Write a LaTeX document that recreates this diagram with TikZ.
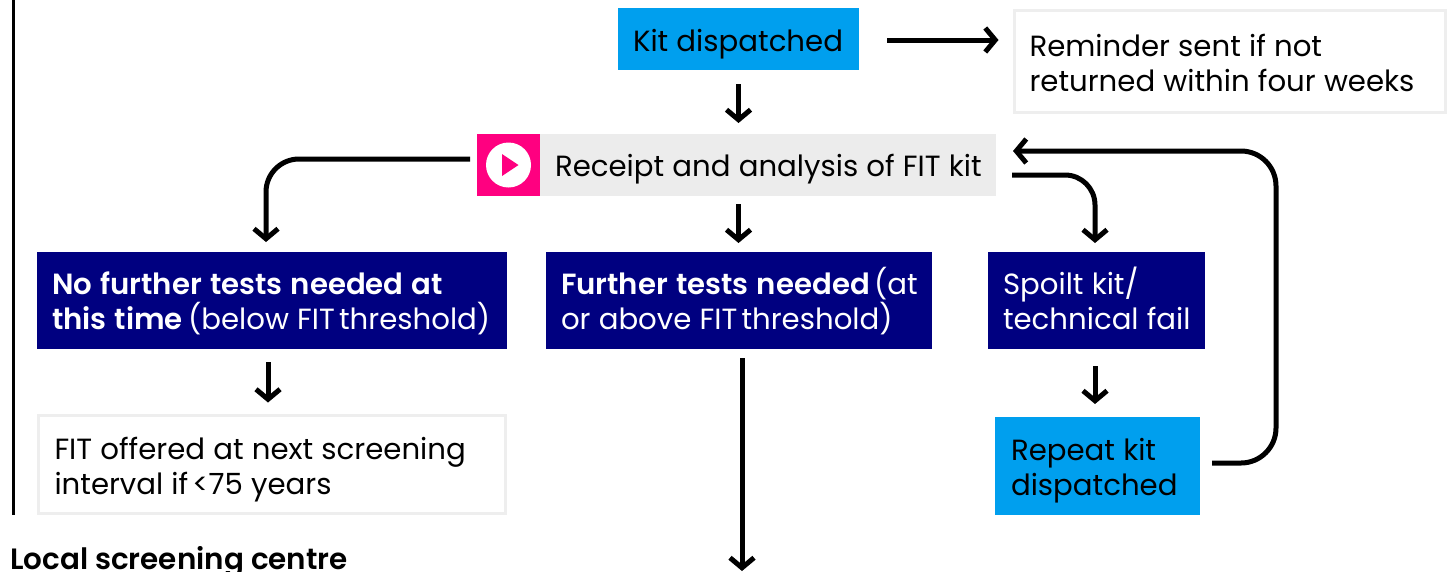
\documentclass[tikz,border=0pt]{standalone}
\usepackage{fontspec}
\setmainfont{Poppins}[BoldFont={Poppins SemiBold}]
\usetikzlibrary{arrows.meta,calc}
\definecolor{skyb}{HTML}{009FEE}
\definecolor{navyb}{HTML}{000080}
\definecolor{pinkb}{HTML}{FF0080}
\definecolor{greyb}{HTML}{ECECEC}
\definecolor{edgeb}{HTML}{EEEEEE}
\newdimen\dropv
\newcommand{\tl}[1]{\mbox{\spaceskip=\dimexpr\fontdimen2\font+0.4pt\relax\raisebox{-\dropv}[0pt][0pt]{#1}}}
\tikzset{
  x=1pt,y=-1pt,
  drop/.style={execute at begin node={\global\dropv=#1pt\relax}},
  boxbase/.style={anchor=north west,align=left,inner xsep=15pt,inner ysep=0pt,outer sep=0pt,font=\fontsize{29.2}{35}\selectfont},
  skybox/.style={boxbase,fill=skyb,text=black},
  navybox/.style={boxbase,fill=navyb,text=white},
  greybox/.style={boxbase,fill=greyb,text=black},
  outlinebox/.style={boxbase,draw=edgeb,line width=3pt,fill=white,text=black},
  flow/.style={line width=5pt,-{Straight Barb[length=10pt,width=24pt,line width=5pt]}},
}
\begin{document}
\begin{tikzpicture}
\useasboundingbox (0,0) rectangle (1447,571);
\clip (0,0) rectangle (1447,571);
\draw[line width=3pt] (13,0) coordinate (railtop) -- (13,515) coordinate (railend);

\node[skybox,drop=12,text width=211pt,minimum height=62pt] (kit) at (618,8) {\tl{Kit dispatched}};
\node[outlinebox,drop=12.5,text width=401pt,minimum height=102pt] (reminder) at (1014.5,10.5) {\tl{Reminder sent if not}\\\tl{returned within four weeks}};
\node[anchor=north west,fill=pinkb,minimum width=63pt,minimum height=62pt,inner sep=0pt,outer sep=0pt] (play) at (477,134) {};
\node[greybox,drop=11,text width=426pt,minimum height=62pt] (receipt) at (540,134) {\tl{Receipt and analysis of FIT kit}};
\node[fill=white,circle,minimum size=45pt,inner sep=0pt] (playdisc) at (play.center) {};
\fill[pinkb] ($(playdisc.center)+(-6.5,-11)$) -- ($(playdisc.center)+(10,0)$) -- ($(playdisc.center)+(-6.5,11)$) -- cycle;

\node[navybox,drop=11,text width=440pt,minimum height=97pt] (none) at (37,252) {\tl{\textbf{No further tests needed at}}\\\tl{\textbf{this time}\kern-3pt{} (below FIT\kern-4pt{} threshold)}};
\node[navybox,drop=11,text width=356pt,minimum height=97pt] (further) at (546,252) {\tl{\textbf{Further tests needed}\kern-4pt{} (at}\\\tl{or above FIT\kern-4pt{} threshold)}};
\node[navybox,drop=11,text width=187pt,minimum height=97pt] (spoilt) at (988,252) {\tl{Spoilt kit/}\\\tl{technical fail}};
\node[outlinebox,drop=12,inner xsep=16pt,text width=435pt,minimum height=98pt] (offered) at (38.5,415.5) {\tl{FIT offered at next screening}\\\tl{interval if\kern-4pt{} <75 years}};
\node[skybox,drop=11.5,inner xsep=16pt,text width=173pt,minimum height=98pt] (repeatkit) at (995,417) {\tl{Repeat kit}\\\tl{dispatched}};
\node[anchor=base west,inner sep=0pt,font=\fontsize{29.4}{35}\selectfont\bfseries] (centre) at (10,569) {Local screening centre};

\coordinate (bottomend) at (742,571);

% connectors
\draw[flow,shorten <=28pt,shorten >=16pt] ([yshift=-1pt]kit.east) -- ([yshift=-1pt]kit.east -| reminder.west);
\draw[flow,shorten <=14pt,shorten >=11pt] (kit.south) -- (kit.south |- receipt.north);
\draw[flow,shorten <=7pt,rounded corners=33pt] ([yshift=6pt]play.west) -- (266,159) -- ($(none.north west)+(229,-10)$);
\draw[flow,shorten <=8pt,shorten >=9pt] (kit.south |- receipt.south) -- (kit.south |- none.north);
\draw[flow,rounded corners=30pt] ($(receipt.east)+(16,10)$) -- (1095,175) -- ($(spoilt.north)+(-1.5,-9)$);
\draw[flow,shorten <=13pt,shorten >=13pt] ($(none.south)+(-4,0)$) -- ($(offered.north)+(-4,0)$);
\draw[flow,shorten <=9pt] (742,349) -- (bottomend);
\draw[flow,shorten <=17pt,shorten >=13pt] ($(spoilt.south)+(-1.5,0)$) -- ($(spoilt.south)+(-1.5,68)$);
\draw[flow,rounded corners=35pt] ($(repeatkit.east)+(12,-3)$) -- (1276,463) -- (1276,151) -- ($(receipt.east)+(17,-14)$);
\end{tikzpicture}
\end{document}
